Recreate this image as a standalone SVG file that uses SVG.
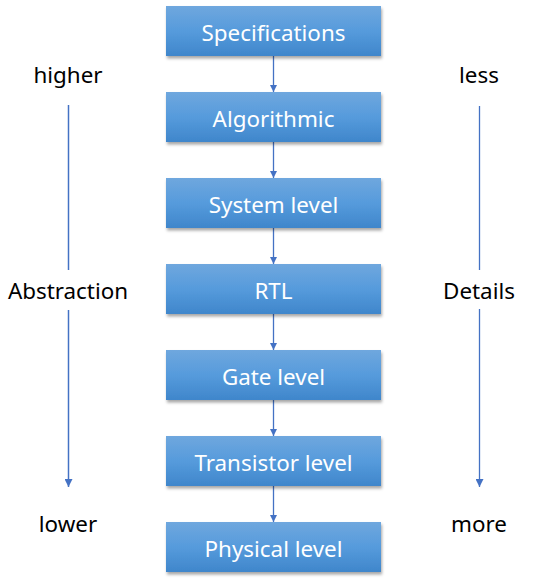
<svg xmlns="http://www.w3.org/2000/svg" width="535" height="581" viewBox="0 0 535 581">
<style>
.box{fill:url(#g);filter:url(#sh)}
.bt{font-family:"Noto Sans","Open Sans",sans-serif;font-size:22.4px;fill:#ffffff;text-anchor:middle}
.lt{font-family:"Noto Sans","Open Sans",sans-serif;font-size:22.4px;fill:#000000;text-anchor:middle}
.c{stroke:#4472C4;stroke-width:1.3;fill:none}
.s{stroke:#4472C4;stroke-width:1.5;fill:none}
</style>
<defs>
<linearGradient id="g" x1="0" y1="0" x2="0" y2="1">
<stop offset="0" stop-color="#6FA7DE"/>
<stop offset="0.5" stop-color="#569BDC"/>
<stop offset="1" stop-color="#3F86CB"/>
</linearGradient>
<filter id="sh" x="-10%" y="-10%" width="120%" height="140%">
<feDropShadow dx="1" dy="2.5" stdDeviation="1.5" flood-color="#000" flood-opacity="0.35"/>
</filter>
<marker id="ah" viewBox="0 0 10 10" refX="10" refY="5" markerWidth="7" markerHeight="7" markerUnits="userSpaceOnUse" orient="auto">
<path d="M0,0 L10,5 L0,10 z" fill="#4472C4"/>
</marker>
<marker id="ah2" viewBox="0 0 10 10" refX="10" refY="5" markerWidth="8" markerHeight="8" markerUnits="userSpaceOnUse" orient="auto">
<path d="M0,0 L10,5 L0,10 z" fill="#4472C4"/>
</marker>
</defs>
<g id="connectors">
<line class="c" x1="273.5" y1="56" x2="273.5" y2="92" marker-end="url(#ah)"/>
<line class="c" x1="273.5" y1="142" x2="273.5" y2="178" marker-end="url(#ah)"/>
<line class="c" x1="273.5" y1="228" x2="273.5" y2="264" marker-end="url(#ah)"/>
<line class="c" x1="273.5" y1="314" x2="273.5" y2="350" marker-end="url(#ah)"/>
<line class="c" x1="273.5" y1="400" x2="273.5" y2="436" marker-end="url(#ah)"/>
<line class="c" x1="273.5" y1="486" x2="273.5" y2="522" marker-end="url(#ah)"/>
<line class="s" x1="68.5" y1="105" x2="68.5" y2="270"/>
<line class="s" x1="68.5" y1="310" x2="68.5" y2="487" marker-end="url(#ah2)"/>
<line class="c" x1="479.5" y1="106" x2="479.5" y2="270"/>
<line class="c" x1="479.5" y1="309" x2="479.5" y2="487" marker-end="url(#ah2)"/>
</g>
<g id="n1"><rect class="box" x="166" y="6" width="215" height="50"/><text class="bt" x="273.5" y="41">Specifications</text></g>
<g id="n2"><rect class="box" x="166" y="92" width="215" height="50"/><text class="bt" x="273.5" y="127">Algorithmic</text></g>
<g id="n3"><rect class="box" x="166" y="178" width="215" height="50"/><text class="bt" x="273.5" y="213">System level</text></g>
<g id="n4"><rect class="box" x="166" y="264" width="215" height="50"/><text class="bt" x="273.5" y="299">RTL</text></g>
<g id="n5"><rect class="box" x="166" y="350" width="215" height="50"/><text class="bt" x="273.5" y="385">Gate level</text></g>
<g id="n6"><rect class="box" x="166" y="436" width="215" height="50"/><text class="bt" x="273.5" y="471">Transistor level</text></g>
<g id="n7"><rect class="box" x="166" y="522" width="215" height="50"/><text class="bt" x="273.5" y="557">Physical level</text></g>
<g id="labels">
<text class="lt" x="68" y="83">higher</text>
<text class="lt" x="68" y="299">Abstraction</text>
<text class="lt" x="68" y="532">lower</text>
<text class="lt" x="479" y="83">less</text>
<text class="lt" x="479" y="299">Details</text>
<text class="lt" x="479" y="532">more</text>
</g>
</svg>
